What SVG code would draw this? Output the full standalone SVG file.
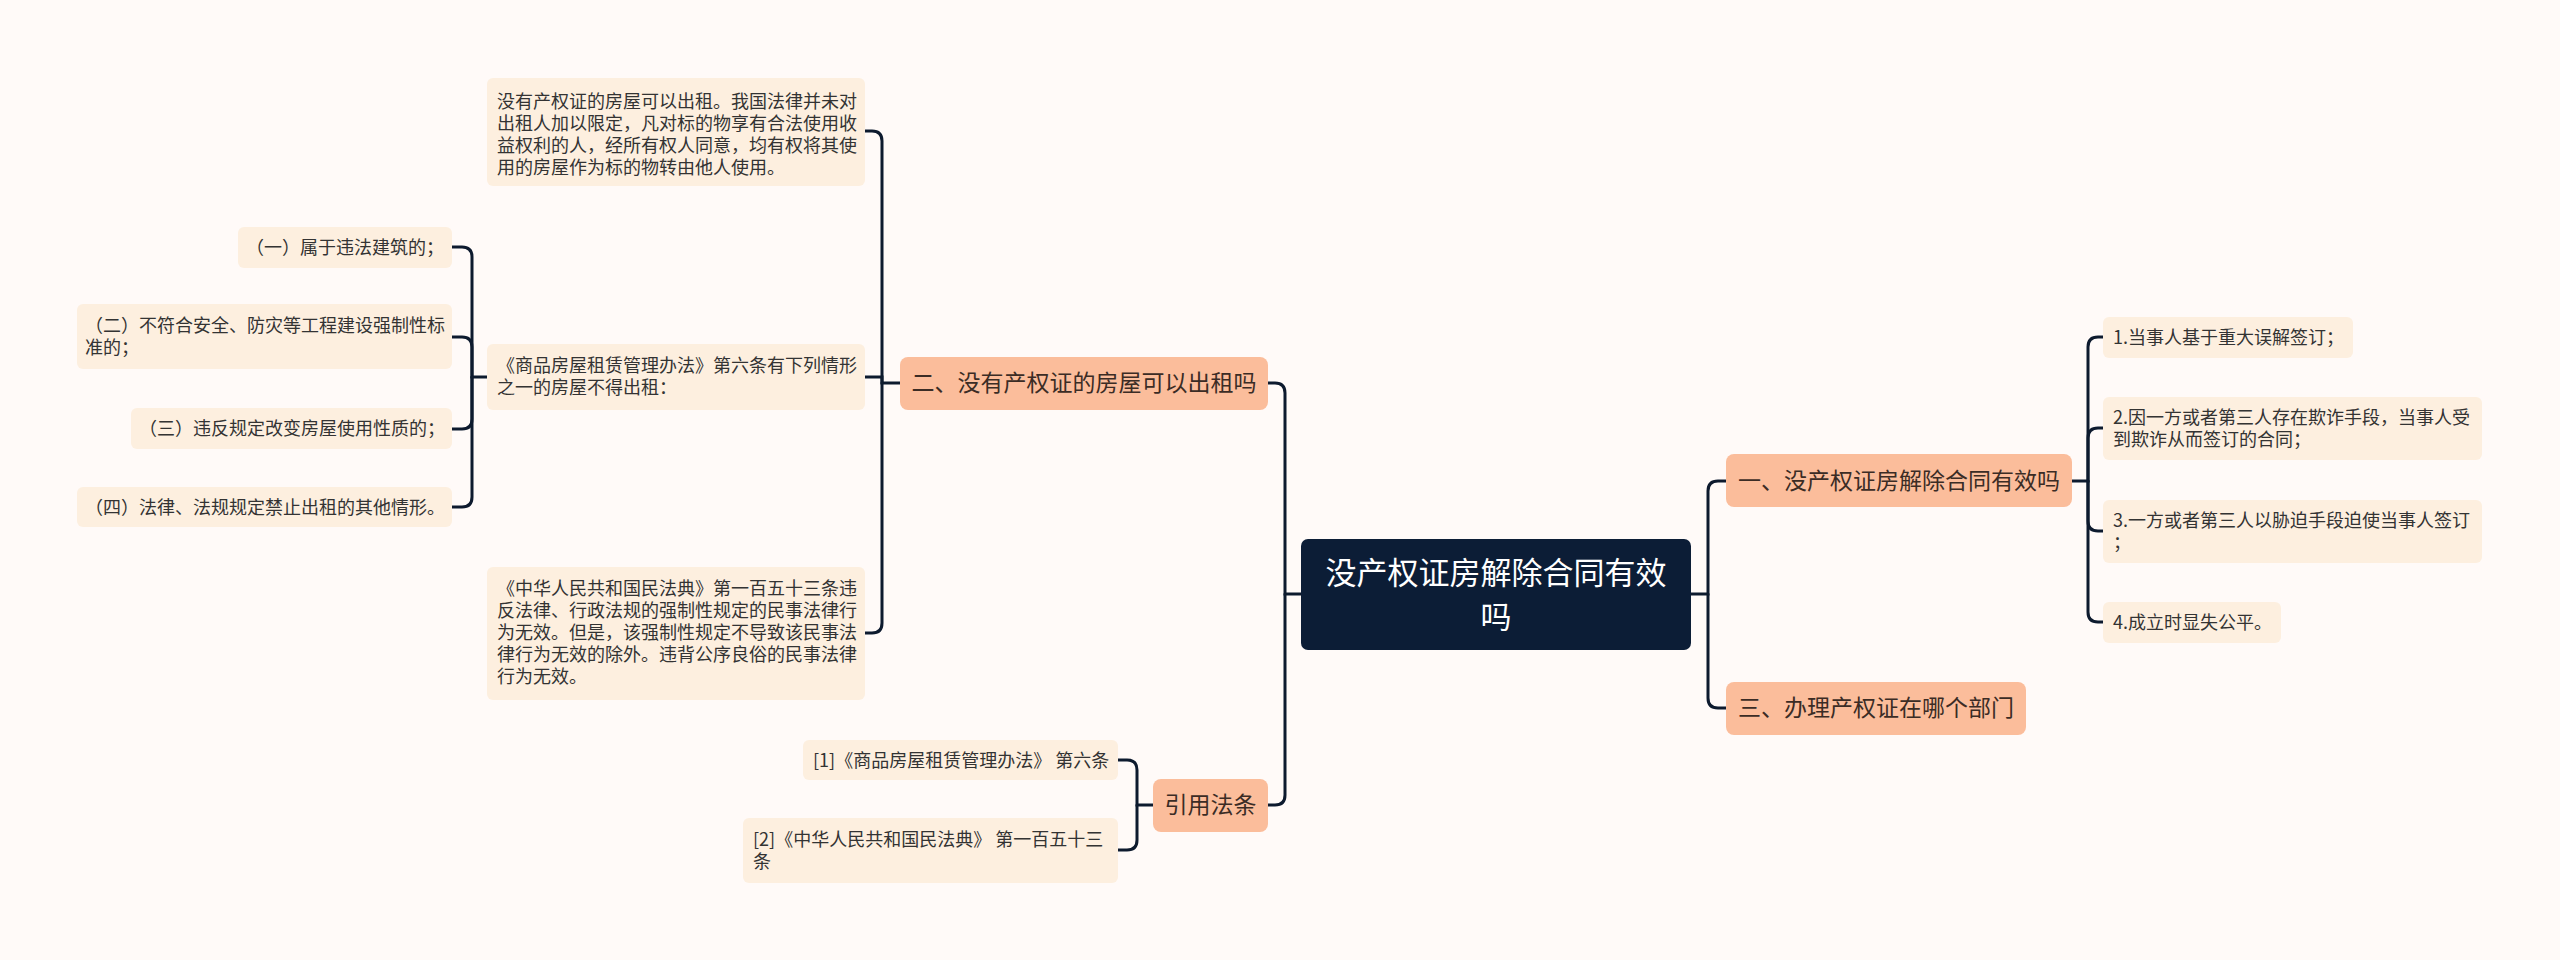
<svg xmlns="http://www.w3.org/2000/svg" width="2560" height="960" viewBox="0 0 2560 960">
<style>
.bg{fill:#fffaf8}
.leaf rect{fill:#fdefdf}
.leaf text{font-family:"Noto Sans CJK SC","Noto Sans",sans-serif;font-size:18px;fill:#333333}
.branch rect{fill:#fbbd9b}
.branch text{font-family:"Noto Sans CJK SC","Noto Sans",sans-serif;font-size:23px;fill:#3b2c25;text-anchor:middle}
.root rect{fill:#0c1d36}
.root text{font-family:"Noto Sans CJK SC","Noto Sans",sans-serif;font-size:31px;fill:#ffffff;text-anchor:middle}
.conn path{fill:none;stroke:#0d1a2e;stroke-width:3;stroke-linecap:round}
</style>
<rect class="bg" x="0" y="0" width="2560" height="960"/>
<g id="connectors" class="conn">
<!-- root left -->
<path d="M1301 594 H1285 V393 Q1285 383 1275 383 H1268"/>
<path d="M1285 594 V795 Q1285 805 1275 805 H1268"/>
<!-- root right -->
<path d="M1691 594 H1708 V491 Q1708 481 1718 481 H1726"/>
<path d="M1708 594 V698 Q1708 708 1718 708 H1726"/>
<!-- branch1 to leaves -->
<path d="M2072 481 H2088 V347 Q2088 337 2098 337 H2103"/>
<path d="M2088 481 V438 Q2088 428 2098 428 H2103"/>
<path d="M2088 481 V521 Q2088 531 2098 531 H2103"/>
<path d="M2088 481 V612 Q2088 622 2098 622 H2103"/>
<!-- branch2 to children -->
<path d="M900 383 H882 V141 Q882 131 872 131 H865"/>
<path d="M882 383 V377 H865"/>
<path d="M882 383 V623 Q882 633 872 633 H865"/>
<!-- 商品 box to leaves -->
<path d="M487 377 H472 V257 Q472 247 462 247 H452"/>
<path d="M472 377 V347 Q472 337 462 337 H452"/>
<path d="M472 377 V419 Q472 429 462 429 H452"/>
<path d="M472 377 V497 Q472 507 462 507 H452"/>
<!-- 引用法条 to leaves -->
<path d="M1153 805 H1137 V770 Q1137 760 1127 760 H1118"/>
<path d="M1137 805 V840 Q1137 850 1127 850 H1118"/>
</g>
<g id="root" class="root">
<rect x="1301" y="539" width="390" height="111" rx="7"/>
<text x="1496" y="584">没产权证房解除合同有效</text>
<text x="1496" y="628">吗</text>
</g>
<g id="branch1" class="branch">
<rect x="1726" y="454" width="346" height="53" rx="8"/>
<text x="1899" y="489">一、没产权证房解除合同有效吗</text>
</g>
<g id="branch3" class="branch">
<rect x="1726" y="682" width="300" height="53" rx="8"/>
<text x="1876" y="716">三、办理产权证在哪个部门</text>
</g>
<g id="branch2" class="branch">
<rect x="900" y="357" width="368" height="53" rx="8"/>
<text x="1084" y="391">二、没有产权证的房屋可以出租吗</text>
</g>
<g id="branch4" class="branch">
<rect x="1153" y="779" width="115" height="53" rx="8"/>
<text x="1210.5" y="813">引用法条</text>
</g>
<g id="r-leaf1" class="leaf">
<rect x="2103" y="317" width="250" height="41" rx="6"/>
<text x="2113" y="344">1.当事人基于重大误解签订；</text>
</g>
<g id="r-leaf2" class="leaf">
<rect x="2103" y="397" width="379" height="63" rx="6"/>
<text x="2113" y="424">2.因一方或者第三人存在欺诈手段，当事人受</text>
<text x="2113" y="446">到欺诈从而签订的合同；</text>
</g>
<g id="r-leaf3" class="leaf">
<rect x="2103" y="500" width="379" height="63" rx="6"/>
<text x="2113" y="527">3.一方或者第三人以胁迫手段迫使当事人签订</text>
<text x="2113" y="549">；</text>
</g>
<g id="r-leaf4" class="leaf">
<rect x="2103" y="602" width="178" height="41" rx="6"/>
<text x="2113" y="629">4.成立时显失公平。</text>
</g>
<g id="l-top" class="leaf">
<rect x="487" y="78" width="378" height="108" rx="6"/>
<text x="497" y="108">没有产权证的房屋可以出租。我国法律并未对</text>
<text x="497" y="130">出租人加以限定，凡对标的物享有合法使用收</text>
<text x="497" y="152">益权利的人，经所有权人同意，均有权将其使</text>
<text x="497" y="174">用的房屋作为标的物转由他人使用。</text>
</g>
<g id="l-rule" class="leaf">
<rect x="487" y="344" width="378" height="66" rx="6"/>
<text x="497" y="372">《商品房屋租赁管理办法》第六条有下列情形</text>
<text x="497" y="394">之一的房屋不得出租：</text>
</g>
<g id="l-code" class="leaf">
<rect x="487" y="567" width="378" height="133" rx="6"/>
<text x="497" y="595">《中华人民共和国民法典》第一百五十三条违</text>
<text x="497" y="617">反法律、行政法规的强制性规定的民事法律行</text>
<text x="497" y="639">为无效。但是，该强制性规定不导致该民事法</text>
<text x="497" y="661">律行为无效的除外。违背公序良俗的民事法律</text>
<text x="497" y="683">行为无效。</text>
</g>
<g id="l-item1" class="leaf">
<rect x="238" y="227" width="214" height="41" rx="6"/>
<text x="246" y="254">（一）属于违法建筑的；</text>
</g>
<g id="l-item2" class="leaf">
<rect x="77" y="304" width="375" height="65" rx="6"/>
<text x="85" y="332">（二）不符合安全、防灾等工程建设强制性标</text>
<text x="85" y="354">准的；</text>
</g>
<g id="l-item3" class="leaf">
<rect x="131" y="408" width="321" height="41" rx="6"/>
<text x="139" y="435">（三）违反规定改变房屋使用性质的；</text>
</g>
<g id="l-item4" class="leaf">
<rect x="77" y="487" width="375" height="40" rx="6"/>
<text x="85" y="514">（四）法律、法规规定禁止出租的其他情形。</text>
</g>
<g id="ref1" class="leaf">
<rect x="803" y="740" width="315" height="40" rx="6"/>
<text x="813" y="767">[1]《商品房屋租赁管理办法》 第六条</text>
</g>
<g id="ref2" class="leaf">
<rect x="743" y="818" width="375" height="65" rx="6"/>
<text x="753" y="846">[2]《中华人民共和国民法典》 第一百五十三</text>
<text x="753" y="868">条</text>
</g>
</svg>
